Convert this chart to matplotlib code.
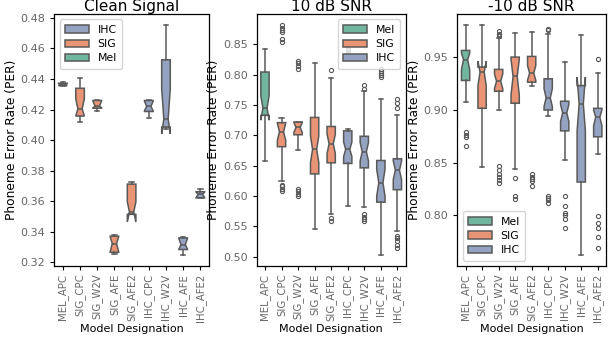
import matplotlib
matplotlib.use("Agg")
import matplotlib.pyplot as plt
from matplotlib.patches import Patch

models = ["MEL_APC", "SIG_CPC", "SIG_W2V", "SIG_AFE", "SIG_AFE2",
          "IHC_CPC", "IHC_W2V", "IHC_AFE", "IHC_AFE2"]
groups = ["Mel", "SIG", "SIG", "SIG", "SIG", "IHC", "IHC", "IHC", "IHC"]
titles = ["Clean Signal", "10 dB SNR", "-10 dB SNR"]

# ---- Clean Signal ----
clean_whislo = [0.4354, 0.4117, 0.4191, 0.3257, 0.3514, 0.4143, 0.4075, 0.3251, 0.3618]
clean_q1     = [0.4356, 0.4157, 0.4209, 0.3266, 0.3514, 0.4187, 0.4085, 0.3284, 0.3622]
clean_med    = [0.4362, 0.4205, 0.4222, 0.3323, 0.3530, 0.4220, 0.4138, 0.3316, 0.3644]
clean_q3     = [0.4372, 0.4339, 0.4259, 0.3371, 0.3712, 0.4259, 0.4525, 0.3360, 0.3662]
clean_whishi = [0.4380, 0.4404, 0.4260, 0.3378, 0.3727, 0.4260, 0.4750, 0.3365, 0.3679]
clean_cilo   = [0.4356, 0.4157, 0.4211, 0.3268, 0.3464, 0.4192, 0.4041, 0.3286, 0.3624]
clean_cihi   = [0.4370, 0.4270, 0.4255, 0.3369, 0.3596, 0.4254, 0.4335, 0.3356, 0.3660]
clean_fliers = [[], [], [], [], [], [], [], [], []]

# ---- 10 dB SNR ----
snr10_whislo = [0.6575, 0.6246, 0.6760, 0.5450, 0.5697, 0.5834, 0.5823, 0.5037, 0.5433]
snr10_q1     = [0.7330, 0.6813, 0.7010, 0.6365, 0.6548, 0.6537, 0.6465, 0.5900, 0.6105]
snr10_med    = [0.7450, 0.7060, 0.7130, 0.6770, 0.6860, 0.6770, 0.6730, 0.6220, 0.6426]
snr10_q3     = [0.8043, 0.7210, 0.7220, 0.7295, 0.7146, 0.7074, 0.6985, 0.6586, 0.6614]
snr10_whishi = [0.8430, 0.7280, 0.7225, 0.8187, 0.7940, 0.7110, 0.7730, 0.7593, 0.7330]
snr10_cilo   = [0.7250, 0.6920, 0.7050, 0.6550, 0.6700, 0.6650, 0.6580, 0.6000, 0.6270]
snr10_cihi   = [0.7650, 0.7200, 0.7210, 0.6990, 0.7020, 0.6890, 0.6880, 0.6440, 0.6580]
snr10_fliers = [
    [],
    [0.8810, 0.8775, 0.8736, 0.8700, 0.8580, 0.8538, 0.6190, 0.6160, 0.6120, 0.6085],
    [0.8225, 0.8187, 0.8142, 0.8100, 0.6120, 0.6080, 0.6040, 0.6000],
    [],
    [0.8071, 0.5642, 0.5590],
    [0.8430, 0.8400, 0.8365, 0.8335],
    [0.7824, 0.7770, 0.5697, 0.5658, 0.5625, 0.5590],
    [0.8100, 0.8063, 0.8025, 0.7995, 0.7965],
    [0.7604, 0.7539, 0.7456, 0.5350, 0.5313, 0.5268, 0.5200, 0.5148],
]

# ---- -10 dB SNR ----
snrm10_whislo = [0.9071, 0.8459, 0.9000, 0.8436, 0.9230, 0.8944, 0.8522, 0.7627, 0.8579]
snrm10_q1     = [0.9278, 0.9014, 0.9176, 0.9062, 0.9262, 0.8998, 0.8800, 0.8315, 0.8744]
snrm10_med    = [0.9475, 0.9357, 0.9271, 0.9316, 0.9348, 0.9113, 0.8970, 0.9055, 0.8929]
snrm10_q3     = [0.9563, 0.9405, 0.9383, 0.9500, 0.9506, 0.9294, 0.9081, 0.9230, 0.9014]
snrm10_whishi = [0.9800, 0.9800, 0.9680, 0.9725, 0.9738, 0.9722, 0.9452, 0.9713, 0.9348]
snrm10_cilo   = [0.9380, 0.9230, 0.9200, 0.9140, 0.9280, 0.9030, 0.8890, 0.8800, 0.8850]
snrm10_cihi   = [0.9540, 0.9460, 0.9340, 0.9480, 0.9420, 0.9200, 0.9050, 0.9310, 0.9000]
snrm10_fliers = [
    [0.8786, 0.8760, 0.8740, 0.8660],
    [],
    [0.9745, 0.9720, 0.9700, 0.8468, 0.8430, 0.8390, 0.8360, 0.8330, 0.8310],
    [0.8357, 0.8180, 0.8150],
    [0.8395, 0.8365, 0.8340, 0.8320, 0.8278],
    [0.9770, 0.9755, 0.8180, 0.8165, 0.8140, 0.8112],
    [0.8180, 0.8087, 0.8024, 0.7998, 0.7960, 0.7880],
    [],
    [0.9478, 0.7992, 0.7922, 0.7880, 0.7795, 0.7690],
]

panels = [
    (clean_whislo, clean_q1, clean_med, clean_q3, clean_whishi, clean_cilo, clean_cihi, clean_fliers),
    (snr10_whislo, snr10_q1, snr10_med, snr10_q3, snr10_whishi, snr10_cilo, snr10_cihi, snr10_fliers),
    (snrm10_whislo, snrm10_q1, snrm10_med, snrm10_q3, snrm10_whishi, snrm10_cilo, snrm10_cihi, snrm10_fliers),
]
legend_orders = [["IHC", "SIG", "Mel"], ["Mel", "SIG", "IHC"], ["Mel", "SIG", "IHC"]]
legend_locs = ["upper left", "upper right", "lower left"]

palette = {"Mel": "#71b7a0", "SIG": "#e99575", "IHC": "#95a3c3"}
gray = "#595959"
tick_gray = "#666666"

fig = plt.figure(figsize=(6.16, 3.38), dpi=100)
axes_rects = [
    [0.0881, 0.2130, 0.2511, 0.7456],
    [0.4167, 0.2130, 0.2419, 0.7456],
    [0.7424, 0.2130, 0.2414, 0.7456],
]

lw = 1.1
for k, (rect, data) in enumerate(zip(axes_rects, panels)):
    ax = fig.add_axes(rect)
    wlo, q1, med, q3, whi, cilo, cihi, fl = data
    stats = []
    for i in range(len(models)):
        stats.append(dict(whislo=wlo[i], q1=q1[i], med=med[i], q3=q3[i], whishi=whi[i],
                          cilo=cilo[i], cihi=cihi[i], fliers=fl[i], label=models[i]))
    bp = ax.bxp(stats, positions=list(range(len(models))), widths=0.5,
                shownotches=True, patch_artist=True,
                boxprops=dict(edgecolor=gray, linewidth=lw),
                whiskerprops=dict(color=gray, linewidth=lw),
                capprops=dict(color=gray, linewidth=lw),
                medianprops=dict(color=gray, linewidth=lw),
                flierprops=dict(marker="o", markerfacecolor="none", markeredgecolor=gray,
                                markersize=3.0, markeredgewidth=0.8, linestyle="none"))
    for patch, g in zip(bp["boxes"], groups):
        patch.set_facecolor(palette[g])
    ax.set_xlim(-0.5, len(models) - 0.5)
    ax.set_xticks(range(len(models)))
    ax.set_xticklabels(models, rotation=90)
    ax.tick_params(axis="y", labelsize=8, labelcolor=tick_gray, length=3, width=0.8)
    ax.tick_params(axis="x", labelsize=7.3, labelcolor=tick_gray, length=3, width=0.8, pad=2.5)
    ax.set_title(titles[k], fontsize=11, pad=2)
    ax.set_ylabel("Phoneme Error Rate (PER)", fontsize=8.8, labelpad=2)
    ax.set_xlabel("Model Designation", fontsize=8, labelpad=1.5)
    for s in ax.spines.values():
        s.set_linewidth(0.9)
    handles = [Patch(facecolor=palette[g], edgecolor=gray, linewidth=lw, label=g)
               for g in legend_orders[k]]
    ax.legend(handles=handles, loc=legend_locs[k], fontsize=7.8, handlelength=2.2,
              borderpad=0.5, labelspacing=0.4, handletextpad=0.8)

fig.savefig("out.png", dpi=100)
